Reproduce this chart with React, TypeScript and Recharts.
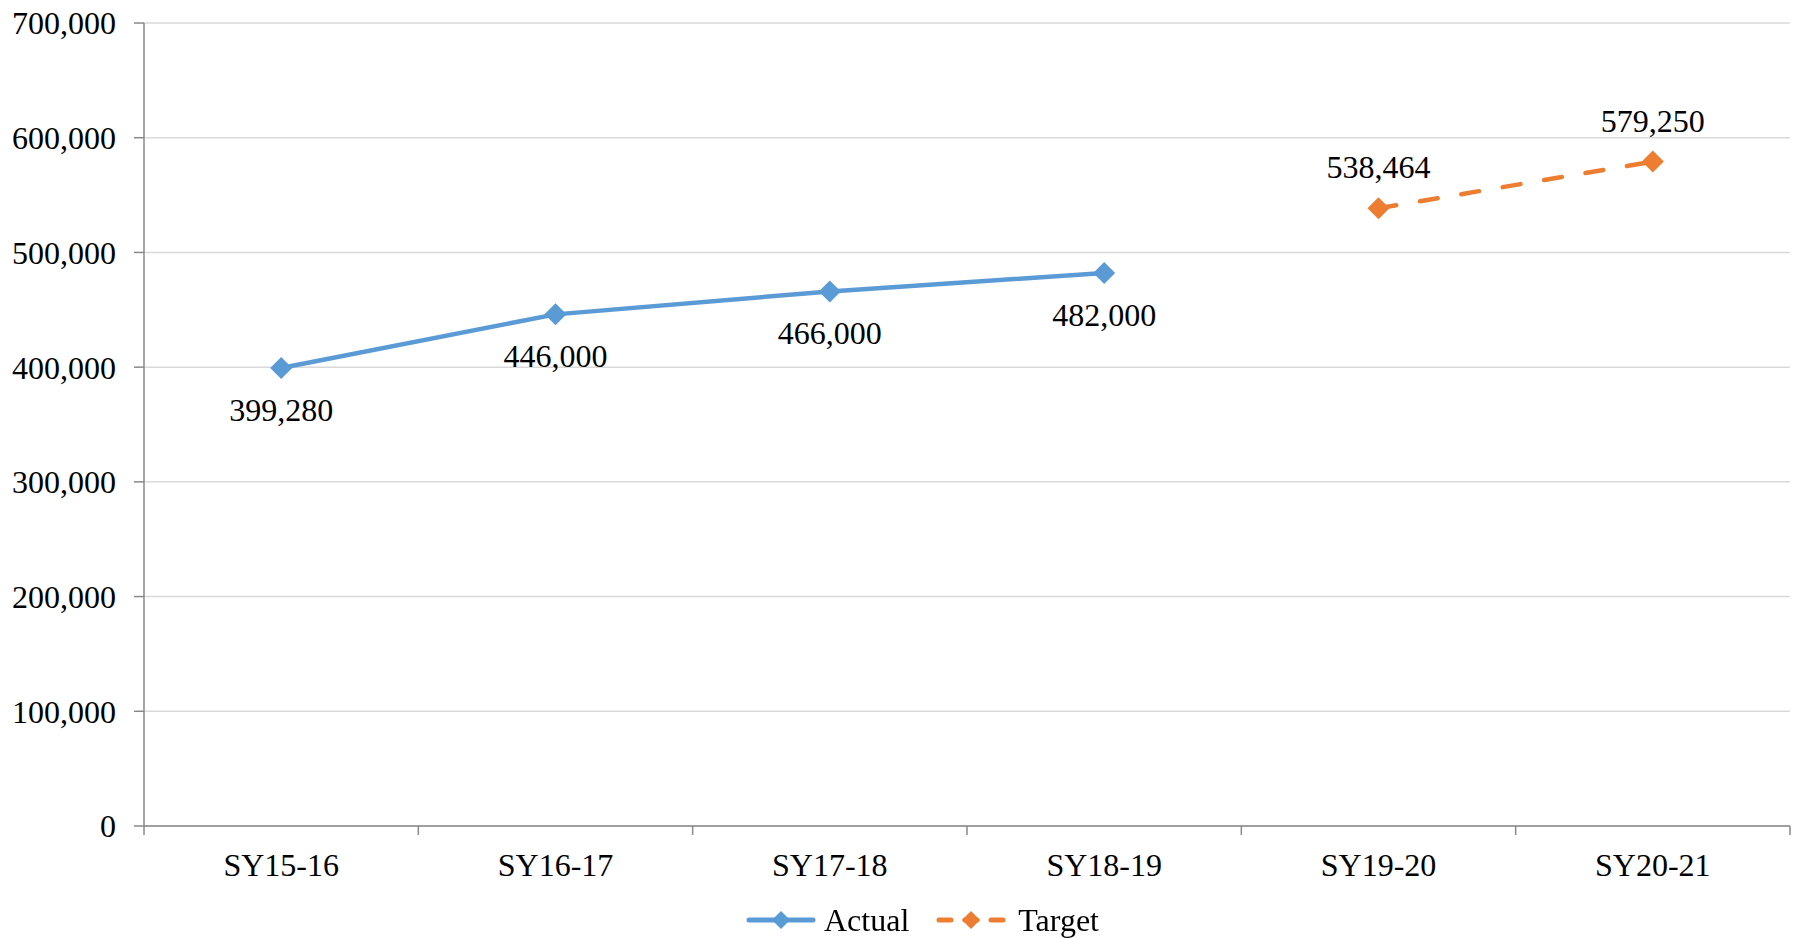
import { LineChart, Line, XAxis, YAxis, CartesianGrid, Legend, LabelList } from "recharts";

const years = ["SY15-16", "SY16-17", "SY17-18", "SY18-19", "SY19-20", "SY20-21"];
const actual = [399280, 446000, 466000, 482000, null, null];
const target = [null, null, null, null, 538464, 579250];
const yTicks = [0, 100000, 200000, 300000, 400000, 500000, 600000, 700000];

const data = years.map((year, i) => ({ year, actual: actual[i], target: target[i] }));

const FONT = '"Liberation Serif", "Times New Roman", serif';
const BLUE = "#5B9BD5";
const ORANGE = "#ED7D31";
const AXIS = "#898989";
const TICK_SIZE = 9;
const TICK_MARGIN = 18;

const fmt = (v: number) => v.toLocaleString("en-US");

const diamond = (color: string) => (props: any) => {
    const { cx, cy, index, value } = props;
    if (value == null || cy == null) return <g key={index} />;
    const r = 11;
    return (
        <polygon
            key={index}
            points={`${cx},${cy - r} ${cx + r},${cy} ${cx},${cy + r} ${cx - r},${cy}`}
            fill={color}
        />
    );
};

const pointLabel = (below: boolean) => (props: any) => {
    const { x, y, value, index } = props;
    if (value == null) return <g key={index} />;
    return (
        <text
            key={index}
            x={x}
            y={below ? y + 53 : y - 30}
            textAnchor="middle"
            fontSize={32}
            fontFamily={FONT}
            fill="#000"
        >
            {fmt(value)}
        </text>
    );
};

// category label plus Excel-style tick marks on the slot boundaries
const XTick = (props: any) => {
    const { x, y, payload, index } = props;
    const half = payload.offset || 0;
    const axisY = y - TICK_SIZE - TICK_MARGIN;
    const last = index === years.length - 1;
    return (
        <g>
            <line x1={x - half} y1={axisY} x2={x - half} y2={axisY + TICK_SIZE} stroke={AXIS} strokeWidth={1.5} />
            {last && (
                <line x1={x + half} y1={axisY} x2={x + half} y2={axisY + TICK_SIZE} stroke={AXIS} strokeWidth={1.5} />
            )}
            <text x={x} y={y} dy="0.71em" textAnchor="middle" fontSize={32} fontFamily={FONT} fill="#000">
                {payload.value}
            </text>
        </g>
    );
};

const LegendMark = ({ color, dashed }: { color: string; dashed?: boolean }) => (
    <svg width={70} height={24} style={{ display: "block" }}>
        <line
            x1={3}
            y1={12}
            x2={67}
            y2={12}
            stroke={color}
            strokeWidth={5}
            strokeLinecap="round"
            strokeDasharray={dashed ? "12 14" : undefined}
        />
        <polygon points="35,3 44,12 35,21 26,12" fill={color} />
    </svg>
);

const ChartLegend = () => (
    <div
        style={{
            height: 36,
            display: "flex",
            alignItems: "center",
            paddingLeft: 746,
            fontFamily: FONT,
            fontSize: 32,
            color: "#000",
        }}
    >
        <LegendMark color={BLUE} />
        <span style={{ marginLeft: 8, marginRight: 27 }}>Actual</span>
        <LegendMark color={ORANGE} dashed />
        <span style={{ marginLeft: 12 }}>Target</span>
    </div>
);

export default function App() {
    return (
        <div style={{ position: "fixed", left: 0, top: 0, width: 1800, height: 938, background: "#fff" }}>
            <LineChart width={1800} height={938} data={data} margin={{ top: 23, right: 10, bottom: 0, left: 0 }}>
                <CartesianGrid vertical={false} stroke="#D9D9D9" strokeWidth={1.5} />
                <XAxis
                    dataKey="year"
                    scale="band"
                    axisLine={{ stroke: AXIS, strokeWidth: 1.5 }}
                    tickLine={false}
                    tickSize={TICK_SIZE}
                    tickMargin={TICK_MARGIN}
                    height={76}
                    interval={0}
                    tick={<XTick />}
                />
                <YAxis
                    width={144}
                    domain={[0, 700000]}
                    ticks={yTicks}
                    tickFormatter={fmt}
                    axisLine={{ stroke: AXIS, strokeWidth: 1.5 }}
                    tickLine={{ stroke: AXIS, strokeWidth: 1.5 }}
                    tickSize={10}
                    tickMargin={18}
                    tick={{ fontSize: 32, fontFamily: FONT, fill: "#000" }}
                />
                <Legend verticalAlign="bottom" content={() => <ChartLegend />} />
                <Line
                    dataKey="actual"
                    stroke={BLUE}
                    strokeWidth={4.5}
                    dot={diamond(BLUE)}
                    activeDot={false}
                    isAnimationActive={false}
                >
                    <LabelList dataKey="actual" content={pointLabel(true)} />
                </Line>
                <Line
                    dataKey="target"
                    stroke={ORANGE}
                    strokeWidth={4.5}
                    strokeDasharray="18 24"
                    strokeLinecap="round"
                    dot={diamond(ORANGE)}
                    activeDot={false}
                    isAnimationActive={false}
                >
                    <LabelList dataKey="target" content={pointLabel(false)} />
                </Line>
            </LineChart>
        </div>
    );
}
